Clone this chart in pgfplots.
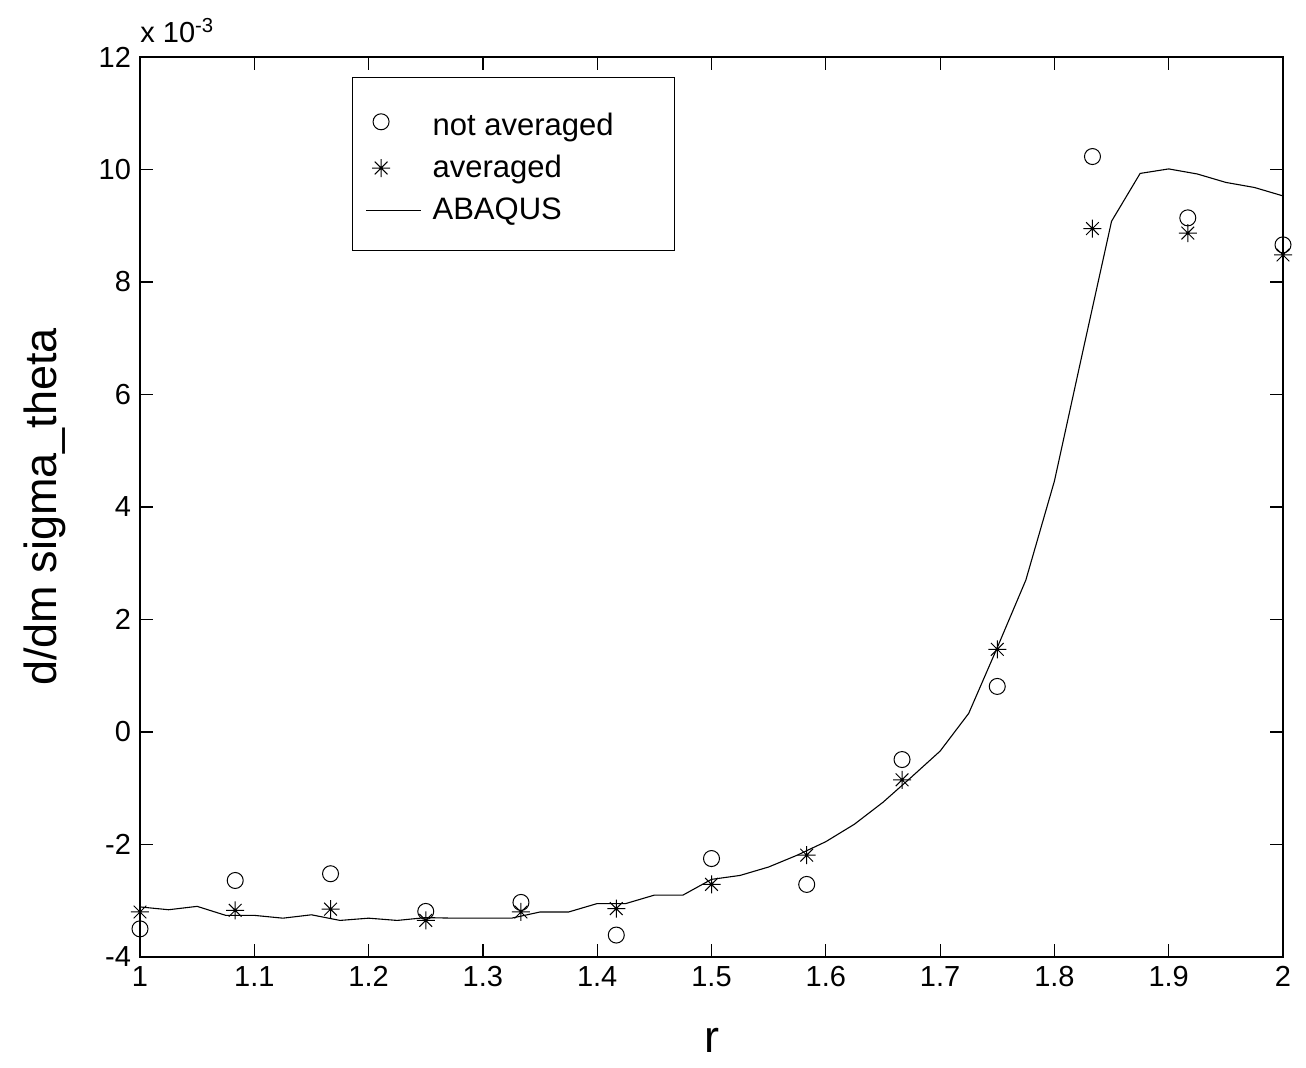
\documentclass[border=0pt]{standalone}
\usepackage{pgfplots}
\pgfplotsset{compat=1.18}
\usepackage{fontspec}
\setmainfont{Liberation Sans}

% MATLAB-style '*' : a plus and a cross on top of each other
\pgfdeclareplotmark{mstar}{%
  \pgfpathmoveto{\pgfqpoint{-\pgfplotmarksize}{0pt}}%
  \pgfpathlineto{\pgfqpoint{\pgfplotmarksize}{0pt}}%
  \pgfpathmoveto{\pgfqpoint{0pt}{-\pgfplotmarksize}}%
  \pgfpathlineto{\pgfqpoint{0pt}{\pgfplotmarksize}}%
  \pgfpathmoveto{\pgfqpoint{-0.707\pgfplotmarksize}{-0.707\pgfplotmarksize}}%
  \pgfpathlineto{\pgfqpoint{0.707\pgfplotmarksize}{0.707\pgfplotmarksize}}%
  \pgfpathmoveto{\pgfqpoint{-0.707\pgfplotmarksize}{0.707\pgfplotmarksize}}%
  \pgfpathlineto{\pgfqpoint{0.707\pgfplotmarksize}{-0.707\pgfplotmarksize}}%
  \pgfusepathqstroke}

\pgfplotsset{
  markleg/.style={legend image code/.code={%
      \path[draw=none,fill=none] (0pt,-4pt) rectangle (27.5pt,4pt);
      \draw[##1,mark repeat=2,mark phase=2] plot coordinates {(0pt,0pt)(7.5pt,0pt)(15pt,0pt)};}},
  lineleg/.style={legend image code/.code={%
      \draw[##1] (0pt,0pt) -- (27.5pt,0pt);}},
}

\pgfplotstableread{
x       y
1.0000  -3.50
1.0833  -2.64
1.1667  -2.52
1.2500  -3.19
1.3333  -3.03
1.4167  -3.61
1.5000  -2.25
1.5833  -2.71
1.6667  -0.49
1.7500   0.81
1.8333  10.23
1.9167   9.14
2.0000   8.66
}\notavg

\pgfplotstableread{
x       y
1.0000  -3.20
1.0833  -3.17
1.1667  -3.15
1.2500  -3.35
1.3333  -3.20
1.4167  -3.14
1.5000  -2.71
1.5833  -2.19
1.6667  -0.85
1.7500   1.47
1.8333   8.95
1.9167   8.87
2.0000   8.48
}\avg

\pgfplotstableread{
x      y
1.000  -3.11
1.025  -3.16
1.050  -3.10
1.075  -3.26
1.100  -3.26
1.125  -3.31
1.150  -3.25
1.175  -3.35
1.200  -3.31
1.225  -3.35
1.250  -3.30
1.275  -3.31
1.300  -3.31
1.325  -3.31
1.350  -3.20
1.375  -3.20
1.400  -3.05
1.425  -3.05
1.450  -2.90
1.475  -2.90
1.500  -2.62
1.525  -2.55
1.550  -2.40
1.575  -2.19
1.600  -1.95
1.625  -1.64
1.650  -1.25
1.675  -0.80
1.700  -0.34
1.725   0.33
1.750   1.50
1.775   2.70
1.800   4.46
1.825   6.78
1.850   9.08
1.875   9.93
1.900  10.01
1.925   9.92
1.950   9.77
1.975   9.68
2.000   9.53
}\abaqus

\begin{document}
\begin{tikzpicture}
\begin{axis}[
    name=ax,
    scale only axis,
    width=571.5pt, height=450pt,
    xmin=1, xmax=2, ymin=-4, ymax=12,
    xtick={1,1.1,1.2,1.3,1.4,1.5,1.6,1.7,1.8,1.9,2},
    ytick={-4,-2,0,2,4,6,8,10,12},
    tick align=inside,
    major tick length=6.5pt,
    axis line style={line width=0.8pt},
    tick style={line width=0.6pt, black},
    ticklabel style={font=\fontsize{14.5}{17}\selectfont},
    /pgf/number format/assume math mode=true,
    xticklabel style={/pgf/number format/fixed, /pgf/number format/precision=1, yshift=-1pt},
    yticklabel style={xshift=-1pt},
    xlabel={r},
    ylabel={d/dm sigma\_theta},
    label style={font=\fontsize{22.5}{27}\selectfont},
    xlabel style={at={(axis description cs:0.5,-0.0922)}, anchor=center},
    ylabel style={at={(axis description cs:-0.0831,0.5)}, anchor=center},
    clip=false,
    legend cell align=left,
    legend style={
        at={(rel axis cs:0.1855,0.978)}, anchor=north west,
        draw=black, line width=0.5pt,
        font=\fontsize{15.5}{18}\selectfont,
        inner xsep=6.5pt, inner ysep=13pt,
        row sep=6.5pt,
        nodes={inner sep=1pt},
        /tikz/every odd column/.append style={column sep=4.5pt},
    },
]
\addplot[only marks, mark=o, mark size=4pt, line width=0.5pt, markleg]
    table[x=x,y=y] {\notavg};
\addlegendentry{\rule{0pt}{15pt}not averaged\rule{23pt}{0pt}}
\addplot[only marks, mark=mstar, mark size=4.5pt, line width=0.5pt, markleg]
    table[x=x,y=y] {\avg};
\addlegendentry{averaged}
\addplot[no marks, black, line width=0.55pt, lineleg]
    table[x=x,y=y] {\abaqus};
\addlegendentry{ABAQUS}
\node[anchor=base west, font=\fontsize{14.5}{17}\selectfont, inner sep=0pt]
    at (rel axis cs:0,1) [yshift=7pt] {x 10\textsuperscript{-3}};
\end{axis}
\pgfresetboundingbox
\path[use as bounding box] ([xshift=-70pt,yshift=-55.5pt]ax.south west)
    rectangle ([xshift=11.5pt,yshift=28.5pt]ax.north east);
\end{tikzpicture}
\end{document}
